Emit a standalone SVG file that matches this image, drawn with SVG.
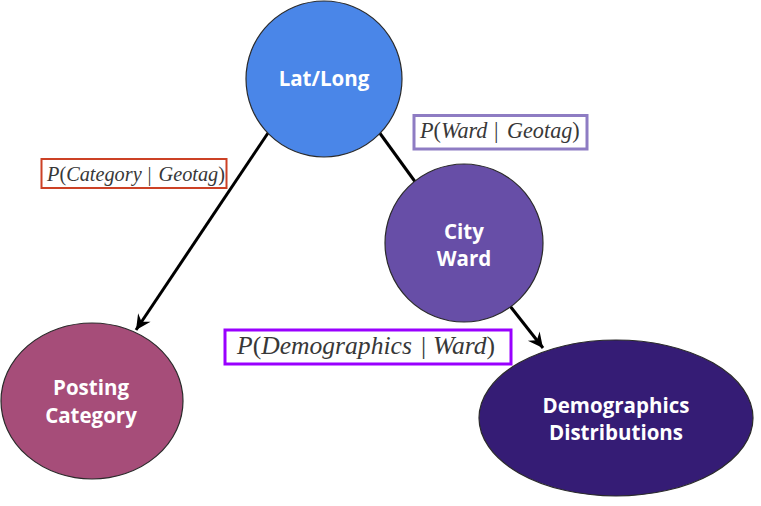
<svg xmlns="http://www.w3.org/2000/svg" width="761" height="506" viewBox="0 0 761 506">
<defs>
<style>
.node{stroke:#2b2b2b;stroke-width:1.2}
.nt{font-family:"Open Sans","Liberation Sans",sans-serif;font-weight:700;font-size:20.5px;fill:#ffffff;text-anchor:middle}
.edge{stroke:#000;stroke-width:3;fill:none}
.lbl{fill:#ffffff}
.mt{font-family:"Liberation Serif","Times New Roman",serif;fill:#383838;font-style:italic}
.up{font-style:normal}
</style>
<marker id="arr" viewBox="-16 -8 17 16" refX="0" refY="0" markerWidth="17" markerHeight="16" markerUnits="userSpaceOnUse" orient="auto">
<path d="M0,0 L-15,-7.5 L-10,0 L-15,7.5 Z" fill="#000"/>
</marker>
</defs>
<rect width="761" height="506" fill="#ffffff"/>
<g id="connectors">
<line class="edge" x1="268" y1="133" x2="136" y2="330" marker-end="url(#arr)"/>
<line class="edge" x1="379" y1="132" x2="416" y2="183"/>
<line class="edge" x1="510" y1="306" x2="543" y2="348" marker-end="url(#arr)"/>
</g>
<g id="node-latlong">
<circle class="node" cx="324" cy="79" r="78" fill="#4a86e8"/>
<text class="nt" x="324" y="86">Lat/Long</text>
</g>
<g id="node-cityward">
<circle class="node" cx="464" cy="243" r="79" fill="#674ea7"/>
<text class="nt" x="464" y="239">City</text>
<text class="nt" x="464" y="266">Ward</text>
</g>
<g id="node-posting">
<ellipse class="node" cx="92" cy="401" rx="91" ry="78" fill="#a64d79"/>
<text class="nt" x="91" y="395">Posting</text>
<text class="nt" x="91" y="423">Category</text>
</g>
<g id="node-demographics">
<ellipse class="node" cx="616" cy="418" rx="137" ry="78" fill="#351c75"/>
<text class="nt" x="616" y="413">Demographics</text>
<text class="nt" x="616" y="440">Distributions</text>
</g>
<g id="label-category">
<rect class="lbl" x="41.5" y="159" width="185" height="29" stroke="#cc4125" stroke-width="2"/>
<text class="mt" x="47" y="181" font-size="20.3">P<tspan class="up">(</tspan>Category<tspan class="up" x="147.5">|</tspan><tspan x="158.5">Geotag</tspan><tspan class="up">)</tspan></text>
</g>
<g id="label-ward">
<rect class="lbl" x="414" y="115.5" width="173" height="33.5" stroke="#8e7cc3" stroke-width="3"/>
<text class="mt" x="420" y="138" font-size="22.2">P<tspan class="up">(</tspan>Ward<tspan class="up" x="494">|</tspan><tspan x="507">Geotag</tspan><tspan class="up">)</tspan></text>
</g>
<g id="label-demographics">
<rect class="lbl" x="225" y="330" width="286" height="34" stroke="#9900ff" stroke-width="3"/>
<text class="mt" x="237" y="354" font-size="25.6">P<tspan class="up">(</tspan>Demographics<tspan class="up" x="421">|</tspan><tspan x="433">Ward</tspan><tspan class="up">)</tspan></text>
</g>
</svg>
